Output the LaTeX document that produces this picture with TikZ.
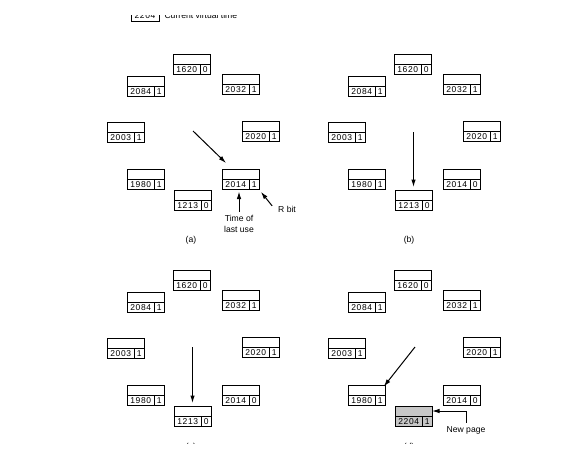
\documentclass[tikz,border=0pt]{standalone}
\usepackage{fontspec}
\setmainfont{Liberation Sans}
\newfontfamily\digitfont[LetterSpace=8]{Liberation Sans}
\usetikzlibrary{arrows.meta, positioning, calc}

% one page frame of the clock: empty upper row, time and R bit below
\newcommand{\clockpage}[5]{%
  \node[pagetop, fill=#5, anchor=north west] (#1top) at (#2) {};
  \node[pagetime, fill=#5, anchor=north west] (#1t) at (#1top.south west) {#3};
  \node[pagebit, fill=#5, anchor=north west] (#1b) at (#1t.north east) {#4};
}

\begin{document}
\begin{tikzpicture}[x=1pt, y=-1pt,
    font=\fontsize{8.6}{11.5}\selectfont,
    cell/.style={draw, line width=0.8pt, inner sep=0pt, outer sep=0pt},
    pagetop/.style={cell, minimum width=37pt, minimum height=10pt},
    pagetime/.style={cell, minimum width=27.5pt, minimum height=10.5pt,
                     font=\digitfont\fontsize{8.5}{9}\selectfont},
    pagebit/.style={cell, minimum width=9.5pt, minimum height=10.5pt,
                    font=\digitfont\fontsize{8.5}{9}\selectfont},
    ptr/.style={-{Latex[length=7.5pt,width=4.5pt]}, line width=1pt}]
  \useasboundingbox (0,0) rectangle (577,450);
  \clip (0,15) rectangle (577,443);

  % key
  \node[cell, minimum width=28pt, minimum height=11pt, anchor=south west,
        font=\digitfont\fontsize{8.5}{9}\selectfont] (key) at (131,21) {2204};
  \node[right=2pt of key] (keytxt) {Current virtual time};

  % (a)
  \clockpage{a1620}{173,54}{1620}{0}{white}
  \clockpage{a2084}{127,76}{2084}{1}{white}
  \clockpage{a2032}{222,74}{2032}{1}{white}
  \clockpage{a2003}{107,122}{2003}{1}{white}
  \clockpage{a2020}{242,121}{2020}{1}{white}
  \clockpage{a1980}{127,169}{1980}{1}{white}
  \clockpage{a2014}{222,169}{2014}{1}{white}
  \clockpage{a1213}{174,190}{1213}{0}{white}
  \coordinate (handa) at (193,131);
  \draw[ptr] (handa) -- ($(a2014top.north west)+(4,-6)$);
  \node[align=center] (lastuse) at (239,224) {Time of\\last use};
  \draw[ptr, shorten >=2pt] (lastuse.north) -- (lastuse.north |- a2014t.south);
  \node (rbit) at (287,209) {R bit};
  \draw[ptr, shorten <=4pt, shorten >=3pt] (rbit.west) -- (a2014b.south east);
  \node (capa) at (191,240) {(a)};

  % (b)
  \begin{scope}[shift={(221,0)}]
    \clockpage{b1620}{173,54}{1620}{0}{white}
    \clockpage{b2084}{127,76}{2084}{1}{white}
    \clockpage{b2032}{222,74}{2032}{1}{white}
    \clockpage{b2003}{107,122}{2003}{1}{white}
    \clockpage{b2020}{242,121}{2020}{1}{white}
    \clockpage{b1980}{127,169}{1980}{1}{white}
    \clockpage{b2014}{222,169}{2014}{0}{white}
    \clockpage{b1213}{174,190}{1213}{0}{white}
    \coordinate (handb) at (192.5,132);
    \draw[ptr, shorten >=3pt] (handb) -- (b1213top.north);
    \node (capb) at (188,240) {(b)};
  \end{scope}

  % (c)
  \begin{scope}[shift={(0,216)}]
    \clockpage{c1620}{173,54}{1620}{0}{white}
    \clockpage{c2084}{127,76}{2084}{1}{white}
    \clockpage{c2032}{222,74}{2032}{1}{white}
    \clockpage{c2003}{107,122}{2003}{1}{white}
    \clockpage{c2020}{242,121}{2020}{1}{white}
    \clockpage{c1980}{127,169}{1980}{1}{white}
    \clockpage{c2014}{222,169}{2014}{0}{white}
    \clockpage{c1213}{174,190}{1213}{0}{white}
    \coordinate (handc) at (192.5,131);
    \draw[ptr, shorten >=3pt] (handc) -- (c1213top.north);
    \node (capc) at (191,231) {(c)};
  \end{scope}

  % (d)
  \begin{scope}[shift={(221,216)}]
    \clockpage{d1620}{173,54}{1620}{0}{white}
    \clockpage{d2084}{127,76}{2084}{1}{white}
    \clockpage{d2032}{222,74}{2032}{1}{white}
    \clockpage{d2003}{107,122}{2003}{1}{white}
    \clockpage{d2020}{242,121}{2020}{1}{white}
    \clockpage{d1980}{127,169}{1980}{1}{white}
    \clockpage{d2014}{222,169}{2014}{0}{white}
    \clockpage{d2204}{174,190}{2204}{1}{black!22}
    \coordinate (handd) at (194,131);
    \draw[ptr, shorten >=-2pt] (handd) -- (d1980top.north east);
    \node (newpage) at (245,214) {New page};
    \draw[ptr] (newpage.north) |- (d2204top.east);
    \node (capd) at (188,231) {(d)};
  \end{scope}
\end{tikzpicture}
\end{document}
